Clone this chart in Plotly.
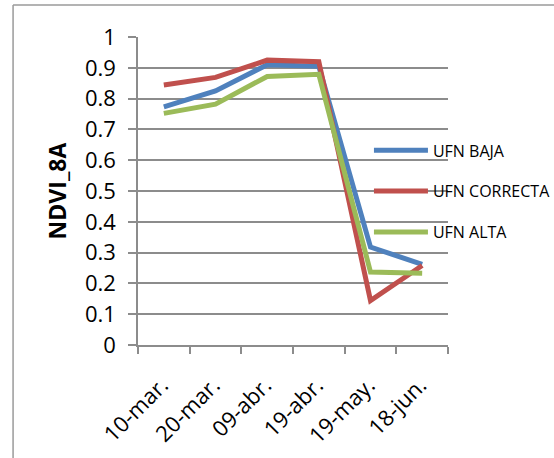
import plotly.graph_objects as go

# Sampling dates and NDVI (band 8A) per fertilisation level
fechas = ["10-mar.", "20-mar.", "09-abr.", "19-abr.", "19-may.", "18-jun."]
ufn_baja = [0.773, 0.825, 0.910, 0.905, 0.318, 0.262]
ufn_correcta = [0.844, 0.869, 0.925, 0.920, 0.144, 0.258]
ufn_alta = [0.752, 0.782, 0.872, 0.879, 0.237, 0.233]

series = [
    ("UFN BAJA", ufn_baja, "#4F81BD"),
    ("UFN CORRECTA", ufn_correcta, "#C0504D"),
    ("UFN ALTA", ufn_alta, "#9BBB59"),
]

FONT = "Open Sans"
GRID = "#8C8C8C"
FRAME = "#9A9A9A"

fig = go.Figure()
for nombre, valores, color in series:
    fig.add_trace(go.Scatter(
        x=fechas, y=valores, name=nombre, mode="lines",
        line=dict(color=color, width=5),
        legendgroup=nombre,
    ))

fig.update_layout(
    width=554, height=458,
    margin=dict(l=138, r=106, t=37, b=113, autoexpand=False),
    paper_bgcolor="white", plot_bgcolor="white",
    font=dict(family=FONT, color="black"),
    showlegend=True,
    legend=dict(
        x=0.745, y=0.687, xanchor="left", yanchor="top",
        bgcolor="rgba(0,0,0,0)",
        font=dict(size=16, family=FONT, color="black"),
        tracegroupgap=17,
        itemwidth=54,
    ),
    xaxis=dict(
        type="category",
        range=[-0.5, len(fechas) - 0.5],
        tickson="boundaries",
        ticks="outside", ticklen=7, tickwidth=1.5, tickcolor=GRID,
        showline=True, linecolor=GRID, linewidth=1.5,
        showgrid=False,
        tickangle=-45,
        tickfont=dict(size=22, family=FONT, color="black"),
        ticklabelstandoff=17,
        ticklabelshift=-2,
    ),
    yaxis=dict(
        range=[0, 1.0001],
        tickvals=[0, 0.1, 0.2, 0.3, 0.4, 0.5, 0.6, 0.7, 0.8, 0.9, 1],
        ticktext=["0", "0.1", "0.2", "0.3", "0.4", "0.5", "0.6", "0.7", "0.8", "0.9", "1"],
        ticks="outside", ticklen=8, tickwidth=1.5, tickcolor=GRID,
        showline=True, linecolor=GRID, linewidth=1.5,
        showgrid=True, gridcolor=GRID, gridwidth=1.5,
        zeroline=False,
        tickfont=dict(size=22, family=FONT, color="black"),
        ticklabelstandoff=8,
        title=dict(text="<b>NDVI_8A</b>", font=dict(size=23, family=FONT, color="black"), standoff=12),
        automargin=False,
    ),
    # outer chart frame: only its top and left edges fall inside the canvas
    shapes=[
        dict(type="line", xref="paper", yref="paper",
             x0=-0.403, x1=1.5, y0=1.104, y1=1.104,
             line=dict(color=FRAME, width=1.5), layer="below"),
        dict(type="line", xref="paper", yref="paper",
             x0=-0.403, x1=-0.403, y0=-0.6, y1=1.104,
             line=dict(color=FRAME, width=1.5), layer="below"),
    ],
)

fig.write_html("out.html")
